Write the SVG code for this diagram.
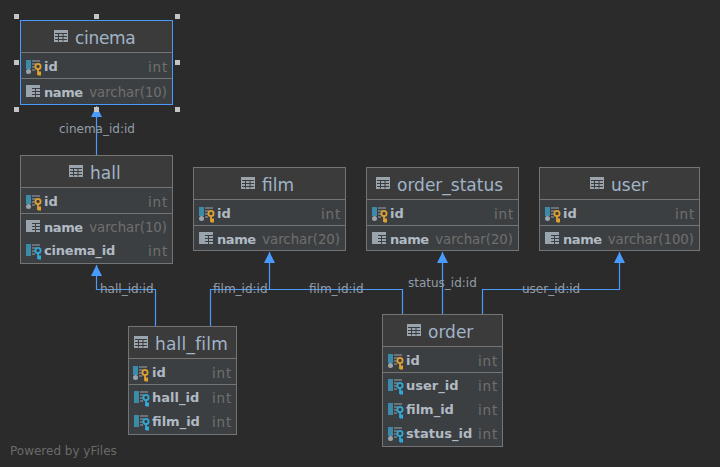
<svg xmlns="http://www.w3.org/2000/svg" width="720" height="467" viewBox="0 0 720 467">
<style>
text{font-family:"DejaVu Sans",sans-serif}
.box{fill:#3c3f41;stroke:#747474;stroke-width:1}
.sel{stroke:#4a9bff}
.head{fill:#3c3b3b}
.div{stroke:#747474;stroke-width:1;fill:none}
.t{font-size:17px;fill:#a0b4c8}
.n{font-size:13px;font-weight:bold;fill:#b0bac4}
.nm{letter-spacing:-.4px}
.ty{font-size:13.3px;fill:#6f6f6f;text-anchor:end}
.i{letter-spacing:.8px;font-size:13.5px}
.l{font-size:12px;fill:#949ea8}
.c{fill:none;stroke:#4a9bff;stroke-width:1.2}
.h{fill:#c4c4c4}
.pw{font-size:12px;fill:#6a6a6a}
</style>
<defs>
<marker id="a" markerUnits="userSpaceOnUse" markerWidth="12" markerHeight="12" refX="11" refY="5.500" orient="auto"><path d="M0,0L11,5.500L0,11Z" fill="#4a9bff"/></marker>
<g id="tbl"><rect x="0" y="0" width="14" height="12" fill="#9aa4ac"/><path d="M1,3.500H13M1,6.500H13M1,9.500H13M4.500,3V11.500M9,3V11.500" stroke="#3c3b3b" stroke-width="1"/></g>
<g id="col"><rect x="0" y="0" width="5" height="12" fill="#9aa4ac"/><rect x="5" y="0" width="9" height="12" fill="#9aa4ac"/><path d="M6,3.500H14M6,6.500H14M6,9.500H14M9.500,3V12" stroke="#3c3f41" stroke-width="1"/></g>
<g id="pk"><rect x="0" y="0" width="5" height="9" fill="#3a8aa8"/><circle cx="2.500" cy="11.500" r="2.500" fill="#9aa4ac"/><path d="M6,1H14M6,4H10M6,7H9M6,10H9" stroke="#9aa4ac" stroke-width="1"/><circle cx="12" cy="6.500" r="2.600" fill="none" stroke="#e0a030" stroke-width="1.800"/><path d="M12,9V15M12,12.500H15M12,14.500H15" stroke="#e0a030" stroke-width="1.800"/></g>
<g id="fk"><rect x="0" y="0" width="5" height="12" fill="#3a8aa8"/><path d="M6,1H14M6,4H10M6,7H9M6,10H9" stroke="#9aa4ac" stroke-width="1"/><circle cx="12" cy="6.500" r="2.600" fill="none" stroke="#30a8d8" stroke-width="1.800"/><path d="M12,9V15M12,12.500H15M12,14.500H15" stroke="#30a8d8" stroke-width="1.800"/></g>
<g id="pf"><rect x="0" y="0" width="5" height="9" fill="#3a8aa8"/><circle cx="2.500" cy="11.500" r="2.500" fill="#9aa4ac"/><path d="M6,1H14M6,4H10M6,7H9M6,10H9" stroke="#9aa4ac" stroke-width="1"/><circle cx="12" cy="6.500" r="2.600" fill="none" stroke="#30a8d8" stroke-width="1.800"/><path d="M12,9V15M12,12.500H15M12,14.500H15" stroke="#30a8d8" stroke-width="1.800"/></g>
</defs>
<rect width="720" height="467" fill="#2b2b2b"/>
<g id="connectors">
<path class="c" marker-end="url(#a)" d="M96.500,155V106"/>
<path class="c" marker-end="url(#a)" d="M155.500,326V289.500H96.500V265"/>
<path class="c" marker-end="url(#a)" d="M210.500,326V289.500H269.500V252"/>
<path class="c" d="M402.500,314V289.500H269.500"/>
<path class="c" marker-end="url(#a)" d="M442.500,314V252"/>
<path class="c" marker-end="url(#a)" d="M482.500,314V289.500H619.500V252"/>
<text class="l" x="59" y="133">cinema_id:id</text>
<text class="l" x="100" y="293">hall_id:id</text>
<text class="l" x="213" y="293">film_id:id</text>
<text class="l" x="309" y="293">film_id:id</text>
<text class="l" x="408" y="287">status_id:id</text>
<text class="l" x="522" y="293">user_id:id</text>
</g>
<g id="cinema">
<rect class="box sel" x="20.500" y="20.500" width="152" height="84"/>
<rect class="head" x="21" y="21" width="151" height="31"/>
<path class="div sel" d="M20.500,52.500H172.500M20.500,78.500H172.500"/>
<use href="#tbl" x="54" y="30"/><text class="t" x="75" y="44" style="letter-spacing:-.3px">cinema</text>
<use href="#pk" x="26" y="60"/><text class="n" x="44" y="71">id</text><text class="ty i" x="168" y="72">int</text>
<use href="#col" x="26" y="85"/><text class="n nm" x="44" y="97">name</text><text class="ty" x="167" y="97">varchar(10)</text>
</g>
<g id="handles">
<rect class="h" x="14" y="14" width="5" height="5"/><rect class="h" x="94" y="14" width="5" height="5"/><rect class="h" x="175" y="14" width="5" height="5"/>
<rect class="h" x="14" y="60" width="5" height="5"/><rect class="h" x="175" y="60" width="5" height="5"/>
<rect class="h" x="14" y="107" width="5" height="5"/><rect class="h" x="94" y="107" width="5" height="5"/><rect class="h" x="175" y="107" width="5" height="5"/>
</g>
<g id="hall">
<rect class="box" x="20.500" y="155.500" width="152" height="108"/>
<rect class="head" x="21" y="156" width="151" height="31"/>
<path class="div" d="M20.500,187.500H172.500M20.500,213.500H172.500"/>
<use href="#tbl" x="69" y="165"/><text class="t" x="90" y="179">hall</text>
<use href="#pk" x="26" y="195"/><text class="n" x="44" y="206">id</text><text class="ty i" x="168" y="207">int</text>
<use href="#col" x="26" y="220"/><text class="n nm" x="44" y="232">name</text><text class="ty" x="167" y="232">varchar(10)</text>
<use href="#fk" x="26" y="244"/><text class="n" x="44" y="255" style="letter-spacing:-.2px">cinema_id</text><text class="ty i" x="168" y="256">int</text>
</g>
<g id="film">
<rect class="box" x="193.500" y="167.500" width="152" height="83"/>
<rect class="head" x="194" y="168" width="151" height="31"/>
<path class="div" d="M193.500,199.500H345.500M193.500,225.500H345.500"/>
<use href="#tbl" x="241" y="177"/><text class="t" x="262" y="191">film</text>
<use href="#pk" x="199" y="207"/><text class="n" x="217" y="218">id</text><text class="ty i" x="341" y="219">int</text>
<use href="#col" x="199" y="232"/><text class="n nm" x="217" y="244">name</text><text class="ty" x="340" y="244">varchar(20)</text>
</g>
<g id="order_status">
<rect class="box" x="366.500" y="167.500" width="152" height="83"/>
<rect class="head" x="367" y="168" width="151" height="31"/>
<path class="div" d="M366.500,199.500H518.500M366.500,225.500H518.500"/>
<use href="#tbl" x="376" y="177"/><text class="t" x="397" y="191">order_status</text>
<use href="#pk" x="372" y="207"/><text class="n" x="390" y="218">id</text><text class="ty i" x="514" y="219">int</text>
<use href="#col" x="372" y="232"/><text class="n nm" x="390" y="244">name</text><text class="ty" x="513" y="244">varchar(20)</text>
</g>
<g id="user">
<rect class="box" x="539.500" y="167.500" width="160" height="83"/>
<rect class="head" x="540" y="168" width="159" height="31"/>
<path class="div" d="M539.500,199.500H699.500M539.500,225.500H699.500"/>
<use href="#tbl" x="590" y="177"/><text class="t" x="611" y="191">user</text>
<use href="#pk" x="545" y="207"/><text class="n" x="563" y="218">id</text><text class="ty i" x="695" y="219">int</text>
<use href="#col" x="545" y="232"/><text class="n nm" x="563" y="244">name</text><text class="ty" x="694" y="244">varchar(100)</text>
</g>
<g id="hall_film">
<rect class="box" x="128.500" y="326.500" width="108" height="108"/>
<rect class="head" x="129" y="327" width="107" height="31"/>
<path class="div" d="M128.500,358.500H236.500M128.500,384.500H236.500"/>
<use href="#tbl" x="134" y="336"/><text class="t" x="155" y="350" style="letter-spacing:.2px">hall_film</text>
<use href="#pk" x="133" y="366"/><text class="n" x="152" y="377">id</text><text class="ty i" x="232" y="378">int</text>
<use href="#fk" x="134" y="391"/><text class="n" x="152" y="402">hall_id</text><text class="ty i" x="232" y="403">int</text>
<use href="#fk" x="134" y="415"/><text class="n" x="152" y="426">film_id</text><text class="ty i" x="232" y="427">int</text>
</g>
<g id="order">
<rect class="box" x="382.500" y="314.500" width="120" height="132"/>
<rect class="head" x="383" y="315" width="119" height="31"/>
<path class="div" d="M382.500,346.500H502.500M382.500,372.500H502.500"/>
<use href="#tbl" x="407" y="324"/><text class="t" x="428" y="338">order</text>
<use href="#pk" x="388" y="354"/><text class="n" x="406" y="365">id</text><text class="ty i" x="498" y="366">int</text>
<use href="#fk" x="388" y="379"/><text class="n" x="406" y="390">user_id</text><text class="ty i" x="498" y="391">int</text>
<use href="#fk" x="388" y="403"/><text class="n" x="406" y="414">film_id</text><text class="ty i" x="498" y="415">int</text>
<use href="#pf" x="388" y="427"/><text class="n" x="406" y="438">status_id</text><text class="ty i" x="498" y="439">int</text>
</g>
<text class="pw" x="10" y="455">Powered by yFiles</text>
</svg>
